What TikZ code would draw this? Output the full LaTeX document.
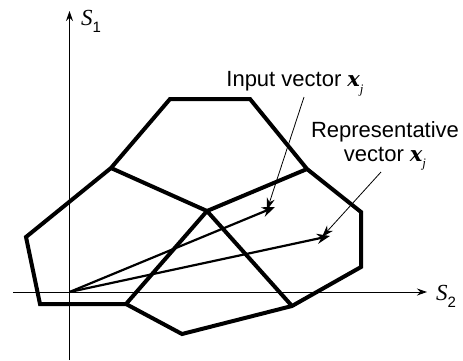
\documentclass[tikz,border=0pt]{standalone}
\usepackage{fontspec}
\setmainfont{Liberation Sans}
\newfontfamily\seriffont{Liberation Serif}
\newfontfamily\boldserif{DejaVu Serif}
\usetikzlibrary{arrows.meta}
\newcommand{\vecx}{{\fontsize{21}{22}\selectfont\boldserif\bfseries\itshape x}\raisebox{-0.3em}{\fontsize{13}{13}\selectfont\seriffont\itshape j}}
\newcommand{\axname}[2]{{\seriffont\itshape #1}\raisebox{-0.3em}{\fontsize{15}{15}\selectfont #2}}
\begin{document}
\begin{tikzpicture}[x=1pt,y=-1pt,
  axis/.style={line width=1pt,-{Stealth[length=10pt,width=7pt]}},
  cell/.style={line width=4pt,line join=miter,line cap=butt},
  vec/.style={line width=2.2pt,-{Stealth[length=13pt,width=10pt]}},
  note/.style={line width=0.8pt,-{Stealth[length=12pt,width=8pt]}},
  lbl/.style={font=\fontsize{22}{24}\selectfont,inner sep=0pt},
  axlbl/.style={font=\fontsize{23}{24}\selectfont,inner sep=0pt}]
\useasboundingbox (0,0) rectangle (463,360);
% axes
\coordinate (O) at (69.5,292);
\coordinate (xs) at (13,292);
\coordinate (xe) at (427,292);
\coordinate (ys) at (69.5,360);
\coordinate (ye) at (69.5,11);
\draw[axis] (xs) -- (xe);
\draw[axis] (ys) -- (ye);
\node[axlbl] (s1) at (91,21) {\axname{S}{1}};
\node[axlbl] (s2) at (446,296) {\axname{S}{2}};
% polygon vertices
\coordinate (A) at (170,99);
\coordinate (B) at (250,99);
\coordinate (C) at (307,169);
\coordinate (D) at (361,212);
\coordinate (E) at (361,267);
\coordinate (F) at (292,306);
\coordinate (G) at (182,334);
\coordinate (H) at (126,304);
\coordinate (I) at (40,304);
\coordinate (J) at (26,237);
\coordinate (K) at (111,168);
\coordinate (M) at (207,211);
\draw[cell] (A) -- (B) -- (C) -- (D) -- (E) -- (F) -- (G) -- (H) -- (I) -- (J) -- (K) -- cycle;
\draw[cell] (K) -- (M);
\draw[cell] (M) -- (C);
\draw[cell] (M) -- (F);
\draw[cell] (M) -- (H);
% vectors
\coordinate (v1) at (275,207);
\coordinate (v2) at (330,236);
\draw[vec] (O) -- (v1);
\draw[vec] (O) -- (v2);
% labels
\node[lbl] (in) at (295,84) {Input vector \vecx};
\node[lbl,align=center] (rep) at (385,146) {Representative\\vector \vecx};
\coordinate (n1s) at (304,97);
\coordinate (n1e) at (267,210);
\coordinate (n2s) at (381,172);
\coordinate (n2e) at (322,237);
\draw[note] (n1s) -- (n1e);
\draw[note] (n2s) -- (n2e);
\end{tikzpicture}
\end{document}
